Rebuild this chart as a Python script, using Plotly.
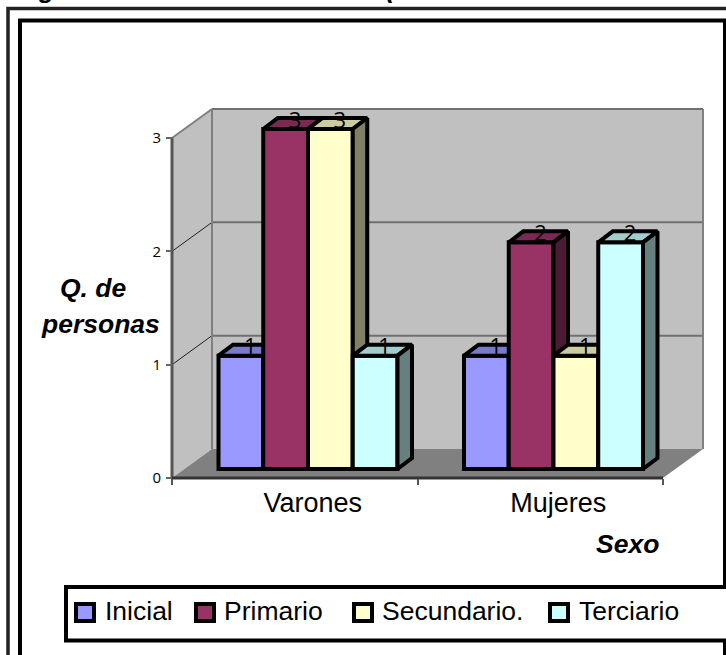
import plotly.graph_objects as go

# ---- data ----
categories = ["Varones", "Mujeres"]
series_names = ["Inicial", "Primario", "Secundario.", "Terciario"]
inicial = [1, 1]
primario = [3, 2]
secundario = [3, 1]
terciario = [1, 2]
y_ticks = [0, 1, 2, 3]

# ---- style ----
front_colors = ["#9999FF", "#993366", "#FFFFCC", "#CCFFFF"]
top_colors = ["#7A7ACC", "#7A2952", "#CCCCA3", "#A3CCCC"]
side_colors = ["#4D4D80", "#4D1A33", "#808066", "#668080"]
FONT = "Liberation Sans, Arial, sans-serif"
W, H = 726, 655
L, R, T, B = 172, 663, 138, 478     # front plane of the plot box, px
PX_X = (R - L) / len(categories)    # px per category
PX_Y = (B - T) / 3                  # px per value unit
def dx(p): return p / PX_X
def dy(p): return p / PX_Y
def px(p): return p / W
def py(p): return 1 - p / H
def X(p): return (p - L) / PX_X - 0.5
def Y(p): return (B - p) / PX_Y

WALL_X, WALL_Y = dx(40), dy(29)     # chart depth
BAR_X, BAR_Y = dx(13.25), dy(9)     # bar offset from the front plane
DEPTH_X, DEPTH_Y = dx(14.5), dy(11) # bar depth
BAR_W = dx(44.75)
LINE = 4
x0, x1 = -0.5, len(categories) - 0.5
y1 = y_ticks[-1]
all_values = [inicial, primario, secundario, terciario]
x_range = [X(0), X(W)]
y_range = [Y(H), Y(0)]

fig = go.Figure()

def poly(xs, ys, fill, axes=("x", "y"), line=None):
    fig.add_trace(go.Scatter(
        x=xs + xs[:1], y=ys + ys[:1], mode="lines", fill="toself", fillcolor=fill,
        line=line or dict(width=0), hoverinfo="skip", showlegend=False,
        xaxis=axes[0], yaxis=axes[1]))

def seg(xs, ys, color, width):
    fig.add_trace(go.Scatter(x=xs, y=ys, mode="lines", line=dict(color=color, width=width),
                             hoverinfo="skip", showlegend=False))

# walls and floor
poly([x0, x0 + WALL_X, x0 + WALL_X, x0], [0, WALL_Y, y1 + WALL_Y, y1], "#C0C0C0")
poly([x0 + WALL_X, x1 + WALL_X, x1 + WALL_X, x0 + WALL_X],
     [WALL_Y, WALL_Y, y1 + WALL_Y, y1 + WALL_Y], "#C0C0C0")
poly([x0, x1, x1 + WALL_X, x0 + WALL_X], [0, 0, WALL_Y, WALL_Y], "#808080")
for t in y_ticks[1:]:
    seg([x0 + WALL_X, x1 + WALL_X], [t + WALL_Y, t + WALL_Y], "#707070", 2)
    seg([x0, x0 + WALL_X], [t, t + WALL_Y], "#808080" if t == y1 else "#202020", 2 if t == y1 else 1)
seg([x0 + WALL_X, x0 + WALL_X], [WALL_Y, y1 + WALL_Y], "#808080", 2)
seg([x1 + WALL_X, x1 + WALL_X], [WALL_Y, y1 + WALL_Y], "#808080", 2)
seg([x0, x0], [0, y1], "#555555", 3)
seg([x0, x1], [0, 0], "#333333", 3)

# bars: one overlaid subplot per series so that later series paint over earlier ones
n = len(series_names)
black = dict(color="black", width=LINE)
for i, (name, values) in enumerate(zip(series_names, all_values)):
    ax = (f"x{i + 2}", f"y{i + 2}")
    pos = [c + BAR_X + (i - (n - 1) / 2) * BAR_W for c in range(len(categories))]
    fig.add_trace(go.Bar(x=pos, y=values, base=[BAR_Y] * len(values), width=BAR_W, name=name,
                         marker=dict(color=front_colors[i], line=black),
                         showlegend=False, xaxis=ax[0], yaxis=ax[1]))
    for p, v in zip(pos, values):
        l, r = p - BAR_W / 2, p + BAR_W / 2
        top = BAR_Y + v
        poly([l, r, r + DEPTH_X, l + DEPTH_X], [top, top, top + DEPTH_Y, top + DEPTH_Y],
             top_colors[i], ax, black)
        poly([r, r + DEPTH_X, r + DEPTH_X, r], [top, top + DEPTH_Y, BAR_Y + DEPTH_Y, BAR_Y],
             side_colors[i], ax, black)

# data labels
lab_x, lab_y, lab_t = [], [], []
for i, values in enumerate(all_values):
    for c, v in enumerate(values):
        lab_x.append(c + BAR_X + (i - (n - 1) / 2) * BAR_W + dx(9.5))
        lab_y.append(BAR_Y + v + dy(7))
        lab_t.append(str(v))
fig.add_trace(go.Scatter(x=lab_x, y=lab_y, text=lab_t, mode="text",
                         textposition="middle center", hoverinfo="skip", showlegend=False,
                         textfont=dict(family="Open Sans", size=22, color="black"),
                         xaxis=f"x{n + 1}", yaxis=f"y{n + 1}"))

# fragments of the cropped heading above the frame
fig.add_trace(go.Scatter(x=[X(47), X(390)], y=[Y(4), Y(4)], text=["g", "("], mode="text",
                         textposition="top center", hoverinfo="skip", showlegend=False,
                         textfont=dict(family=FONT, size=26, color="black", weight="bold", style="italic")))

layout_axes = {}
for k in range(2, n + 2):
    layout_axes[f"xaxis{k}"] = dict(overlaying="x", anchor=f"y{k}", range=x_range, visible=False)
    layout_axes[f"yaxis{k}"] = dict(overlaying="y", anchor=f"x{k}", range=y_range, visible=False)

shapes = [
    dict(type="rect", xref="paper", yref="paper", x0=px(8), x1=px(790), y0=py(8.5), y1=py(720),
         line=dict(color="#222222", width=3.5)),
    dict(type="rect", xref="paper", yref="paper", x0=px(20), x1=px(725), y0=py(20.5), y1=py(720),
         line=dict(color="black", width=4)),
    dict(type="rect", xref="paper", yref="paper", x0=px(66), x1=px(790), y0=py(587), y1=py(640.5),
         fillcolor="white", line=dict(color="black", width=4)),
]
annotations = []
def note(text, x, y, size=26.5, anchor="left", bold_it=False, family=FONT):
    t = f"<b><i>{text}</i></b>" if bold_it else text
    annotations.append(dict(text=t, xref="paper", yref="paper", x=px(x), y=py(y), showarrow=False,
                            xanchor=anchor, yanchor="middle",
                            font=dict(family=family, size=size, color="black")))

legend_swatch_x = [76, 196, 354, 550]
legend_text_x = [102.5, 221.5, 380, 576.5]
for i, name in enumerate(series_names):
    s = legend_swatch_x[i]
    shapes.append(dict(type="rect", xref="paper", yref="paper", x0=px(s), x1=px(s + 18),
                       y0=py(604), y1=py(621), fillcolor=front_colors[i],
                       line=dict(color="black", width=4)))
    note(name, legend_text_x[i], 611)

note("Q. de", 93, 288, anchor="center", bold_it=True)
note("personas", 101, 324, anchor="center", bold_it=True)
note("Sexo", 627, 544, anchor="center", bold_it=True)

fig.update_layout(
    width=W, height=H, margin=dict(l=0, r=0, t=0, b=0), paper_bgcolor="white", plot_bgcolor="rgba(0,0,0,0)",
    showlegend=False, barmode="overlay", shapes=shapes, annotations=annotations,
    font=dict(family=FONT, color="black"),
    xaxis=dict(domain=[0, 1], range=x_range, showgrid=False, zeroline=False,
               anchor="free", position=py(B),
               tickmode="array", tickvals=[c + dx(18) for c in range(len(categories))],
               ticktext=categories, ticks="", ticklen=0, ticklabelstandoff=6,
               tickfont=dict(family=FONT, size=27), showline=False,
               minor=dict(tickmode="array", tickvals=[c - 0.5 for c in range(len(categories) + 1)],
                          ticks="outside", ticklen=6, tickcolor="#555555", tickwidth=2)),
    yaxis=dict(domain=[0, 1], range=y_range, showgrid=False, zeroline=False,
               anchor="free", position=px(L),
               tickmode="array", tickvals=y_ticks, ticks="outside", ticklen=6, tickwidth=2,
               ticklabelstandoff=2,
               tickcolor="#666666", tickfont=dict(family="Open Sans", size=15), showline=False),
    **layout_axes,
)

fig.write_html("out.html", config=dict(displayModeBar=False),
               post_script="document.body.style.margin='0';document.body.style.overflow='hidden';")
